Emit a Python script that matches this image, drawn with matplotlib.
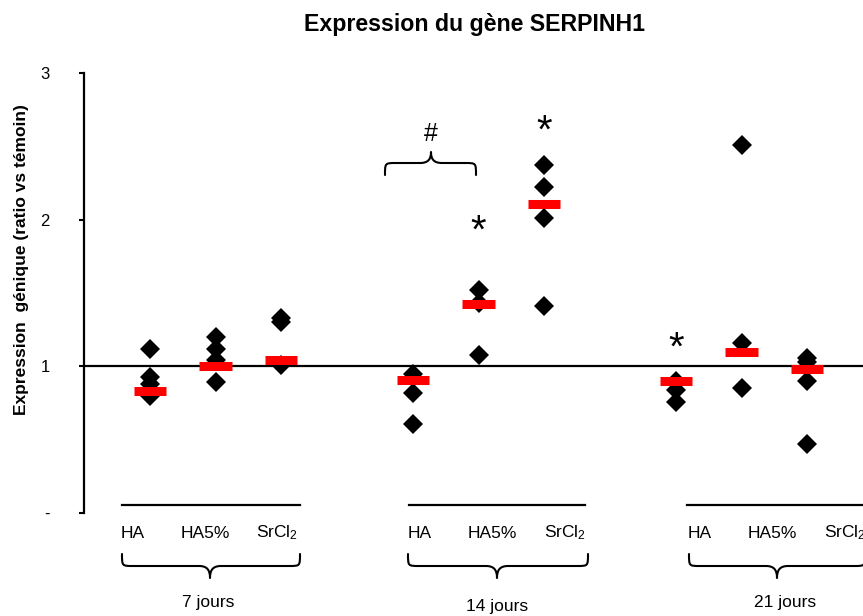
import matplotlib
matplotlib.use("Agg")
import matplotlib.pyplot as plt
from matplotlib.path import Path
from matplotlib.patches import PathPatch

plt.rcParams['font.family'] = ['Liberation Sans', 'DejaVu Sans']
plt.rcParams['mathtext.fontset'] = 'custom'
plt.rcParams['mathtext.rm'] = 'Liberation Sans'
plt.rcParams['mathtext.it'] = 'Liberation Sans'
plt.rcParams['mathtext.bf'] = 'Liberation Sans:bold'

# ---------------- data ----------------
days = ['7 jours', '14 jours', '21 jours']
treatments = ['HA', 'HA5%', 'SrCl$_2$']
positions = [1, 2, 3, 5, 6, 7, 9, 10, 11]

d7_HA = [1.12, 0.93, 0.88, 0.80]
d7_HA5 = [1.20, 1.12, 1.04, 0.89]
d7_Sr = [1.33, 1.30, 1.01]
d14_HA = [0.95, 0.82, 0.61]
d14_HA5 = [1.52, 1.43, 1.08]
d14_Sr = [2.37, 2.22, 2.01, 1.41]
d21_HA = [0.90, 0.84, 0.76]
d21_HA5 = [2.51, 1.16, 0.85]
d21_Sr = [1.06, 1.03, 0.90, 0.47]
series = [d7_HA, d7_HA5, d7_Sr, d14_HA, d14_HA5, d14_Sr, d21_HA, d21_HA5, d21_Sr]

means = [0.83, 1.00, 1.04, 0.91, 1.425, 2.11, 0.90, 1.10, 0.98]

star_pos = [6, 7, 9]
star_y = [1.98, 2.66, 1.18]
yticks = [0, 1, 2, 3]
ytick_labels = ['-', '1', '2', '3']

# ---------------- figure ----------------
W, H = 863, 616
fig = plt.figure(figsize=(W / 100, H / 100), dpi=100)

def fx(px):
    return px / W

def fy(py):
    return 1 - py / H

ax_left, ax_right, ax_top, ax_bottom = 84, 863, 73, 513
ax = fig.add_axes([fx(ax_left), fy(ax_bottom), (ax_right - ax_left) / W,
                   (ax_bottom - ax_top) / H])
unit = 65.76
ax.set_xlim(0, (ax_right - ax_left) / unit)
ax.set_ylim(0, 3)

for s in ['top', 'right', 'bottom']:
    ax.spines[s].set_visible(False)
ax.spines['left'].set_linewidth(1.6)
ax.set_xticks([])
ax.set_yticks(yticks)
ax.set_yticklabels(ytick_labels, fontsize=12)
ax.tick_params(axis='y', direction='out', length=3.5, width=1.5, pad=21)

# baseline at 1
ax.axhline(1.0, color='black', lw=1.6, zorder=2)

# diamonds
for p, vals in zip(positions, series):
    ax.plot([p] * len(vals), vals, linestyle='none', marker='D', markersize=10.3,
            markerfacecolor='black', markeredgewidth=0, zorder=3, clip_on=False)

# red mean bars
half = 0.245
for p, m in zip(positions, means):
    ax.plot([p - half, p + half], [m, m], color='#ff0000', lw=6.5,
            solid_capstyle='butt', zorder=4)

# stars (glyph sits high in its box, so shift the box down a little)
star_shift = 0.06
for p, yv in zip(star_pos, star_y):
    ax.text(p, yv - star_shift, '*', ha='center', va='center', fontsize=29, zorder=5)

# ---------------- annotations in pixel space ----------------
def brace(x0, x1, xm, yt, yh, yb, lw=1.5):
    r = min(11, (xm - x0) * 0.3)
    dy = yb - yh
    pts = [
        (x0, yt),
        (x0, yh), (x0, yh), (x0 + r, yh),
        (xm - r, yh),
        (xm - r * 0.25, yh), (xm, yh + dy * 0.35), (xm, yb),
        (xm, yh + dy * 0.35), (xm + r * 0.25, yh), (xm + r, yh),
        (x1 - r, yh),
        (x1, yh), (x1, yh), (x1, yt),
    ]
    codes = [Path.MOVETO, Path.CURVE4, Path.CURVE4, Path.CURVE4, Path.LINETO,
             Path.CURVE4, Path.CURVE4, Path.CURVE4,
             Path.CURVE4, Path.CURVE4, Path.CURVE4, Path.LINETO,
             Path.CURVE4, Path.CURVE4, Path.CURVE4]
    verts = [(fx(a), fy(b)) for a, b in pts]
    patch = PathPatch(Path(verts, codes), fill=False, lw=lw, color='black',
                      transform=fig.transFigure, capstyle='round', joinstyle='round')
    patch.set_clip_on(False)
    fig.add_artist(patch)

# "#" brace over 14 jours HA / HA5%
brace(385, 476, 431, 175, 163, 152)
fig.text(fx(431), fy(134), '#', ha='center', va='center', fontsize=18)

# group lines, labels, braces
group_lines = [(122, 300), (409, 585), (687, 863)]
label_x = [[132.5, 205, 277], [420, 492, 565], [700, 772, 845]]
brace_x = [(122, 300, 210), (408, 588, 497), (689, 865, 777)]
day_xy = [(208, 603), (497, 607), (785, 603)]

for g in range(3):
    x0, x1 = group_lines[g]
    fig.add_artist(matplotlib.lines.Line2D([fx(x0), fx(x1)], [fy(505), fy(505)],
                                           color='black', lw=1.6,
                                           transform=fig.transFigure))
    for t, lx in zip(treatments, label_x[g]):
        fig.text(fx(lx), fy(533), t, ha='center', va='center', fontsize=12.5)
    bx0, bx1, bxm = brace_x[g]
    brace(bx0, bx1, bxm, 554, 566, 578)
    dx, dyy = day_xy[g]
    fig.text(fx(dx), fy(dyy), days[g], ha='center', va='center', fontsize=12.5)

fig.text(fx(474), fy(25), 'Expression du gène SERPINH1', ha='center', va='center',
         fontsize=16.7, fontweight='bold')
fig.text(fx(22), fy(260), 'Expression  génique (ratio vs témoin)', rotation=90,
         ha='center', va='center', fontsize=12.5, fontweight='bold')

fig.savefig('out.png', dpi=100)
